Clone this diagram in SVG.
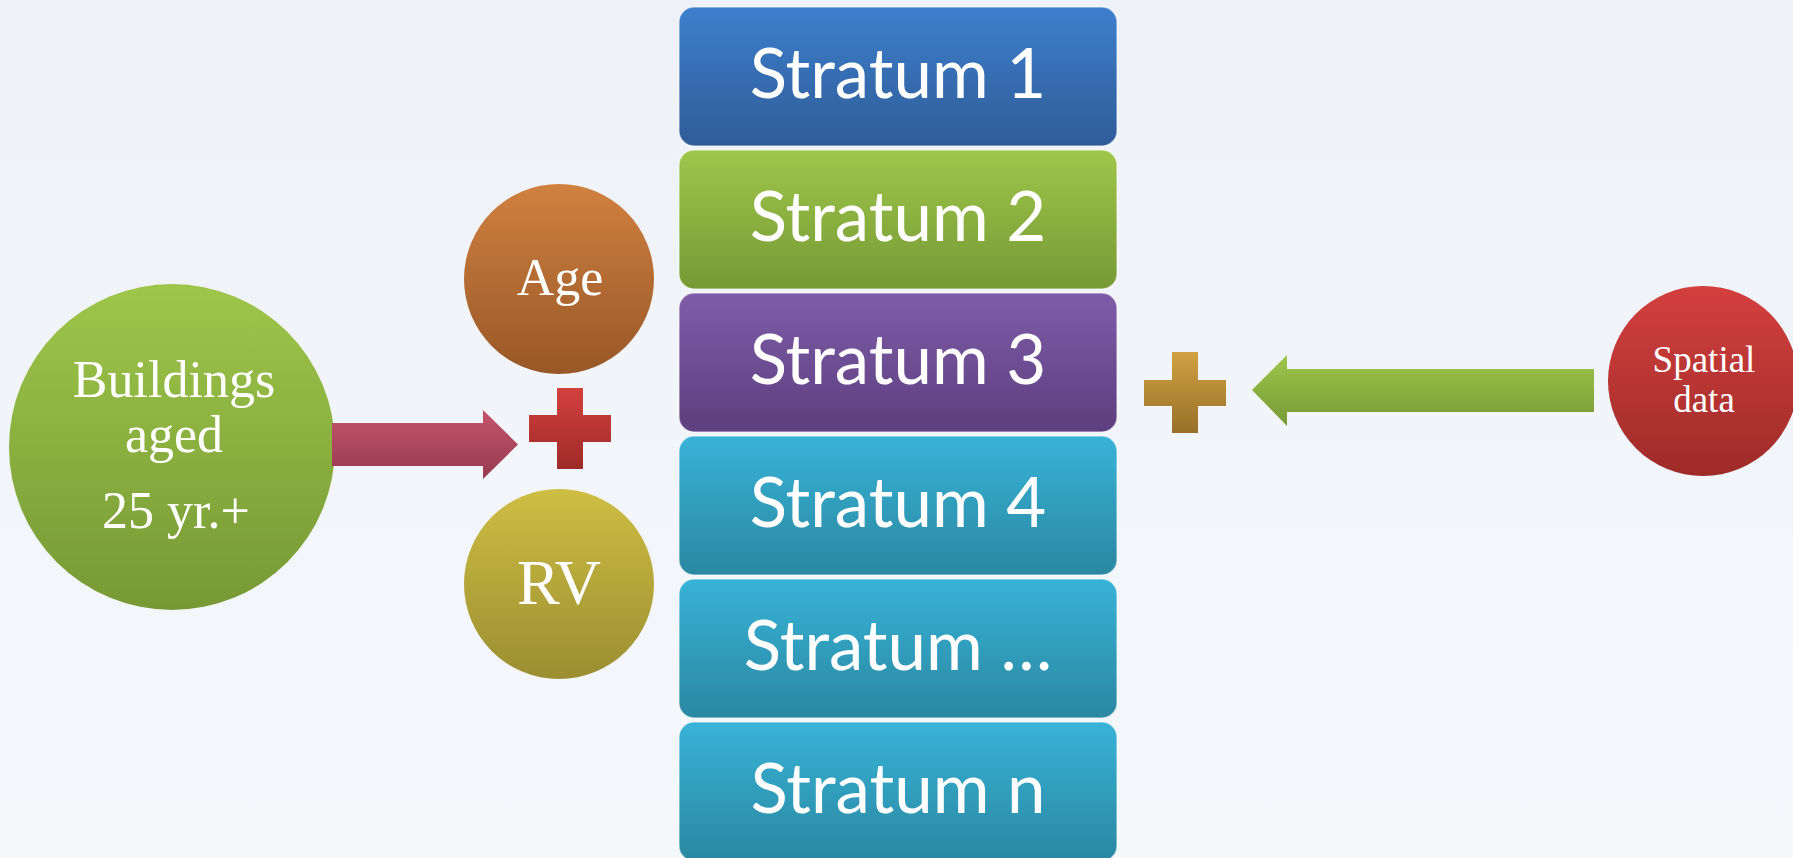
<svg xmlns="http://www.w3.org/2000/svg" width="1793" height="858" viewBox="0 0 1793 858">
  <defs>
    <linearGradient id="bg" x1="0" y1="0" x2="0" y2="1">
      <stop offset="0" stop-color="#eef2f8"/>
      <stop offset="1" stop-color="#f5f8fb"/>
    </linearGradient>
    <linearGradient id="gBlue" x1="0" y1="0" x2="0" y2="1">
      <stop offset="0" stop-color="#3d7fcd"/>
      <stop offset="1" stop-color="#2f5c97"/>
    </linearGradient>
    <linearGradient id="gGreen" x1="0" y1="0" x2="0" y2="1">
      <stop offset="0" stop-color="#9ec64a"/>
      <stop offset="1" stop-color="#769935"/>
    </linearGradient>
    <linearGradient id="gPurple" x1="0" y1="0" x2="0" y2="1">
      <stop offset="0" stop-color="#7f5ca9"/>
      <stop offset="1" stop-color="#5c3f7e"/>
    </linearGradient>
    <linearGradient id="gAqua" x1="0" y1="0" x2="0" y2="1">
      <stop offset="0" stop-color="#38b3d7"/>
      <stop offset="1" stop-color="#2a87a1"/>
    </linearGradient>
    <linearGradient id="gOrange" x1="0" y1="0" x2="0" y2="1">
      <stop offset="0" stop-color="#d08140"/>
      <stop offset="1" stop-color="#985727"/>
    </linearGradient>
    <linearGradient id="gOlive" x1="0" y1="0" x2="0" y2="1">
      <stop offset="0" stop-color="#cebe43"/>
      <stop offset="1" stop-color="#9b8e32"/>
    </linearGradient>
    <linearGradient id="gRed" x1="0" y1="0" x2="0" y2="1">
      <stop offset="0" stop-color="#d3403e"/>
      <stop offset="1" stop-color="#9e2b29"/>
    </linearGradient>
    <linearGradient id="gGold" x1="0" y1="0" x2="0" y2="1">
      <stop offset="0" stop-color="#d0a243"/>
      <stop offset="1" stop-color="#987028"/>
    </linearGradient>
    <linearGradient id="gRose" x1="0" y1="0" x2="0" y2="1">
      <stop offset="0" stop-color="#c3556b"/>
      <stop offset="1" stop-color="#973a50"/>
    </linearGradient>
  </defs>
  <style>
    .box { stroke: #ffffff; stroke-opacity: 0.5; stroke-width: 1.5; }
    .stratum { font-family: Lato, "Open Sans", sans-serif; font-size: 69px; fill: #ffffff; text-anchor: middle; }
    .serif { font-family: "Liberation Serif", "Times New Roman", serif; fill: #ffffff; text-anchor: middle; }
  </style>

  <rect width="1793" height="858" fill="url(#bg)"/>

  <!-- stacked strata -->
  <g id="stratum-1">
    <rect class="box" x="679" y="7" width="438" height="139" rx="15" fill="url(#gBlue)"/>
    <text class="stratum" x="898" y="98">Stratum 1</text>
  </g>
  <g id="stratum-2">
    <rect class="box" x="679" y="150" width="438" height="139" rx="15" fill="url(#gGreen)"/>
    <text class="stratum" x="898" y="241">Stratum 2</text>
  </g>
  <g id="stratum-3">
    <rect class="box" x="679" y="293" width="438" height="139" rx="15" fill="url(#gPurple)"/>
    <text class="stratum" x="898" y="384">Stratum 3</text>
  </g>
  <g id="stratum-4">
    <rect class="box" x="679" y="436" width="438" height="139" rx="15" fill="url(#gAqua)"/>
    <text class="stratum" x="898" y="527">Stratum 4</text>
  </g>
  <g id="stratum-etc">
    <rect class="box" x="679" y="579" width="438" height="139" rx="15" fill="url(#gAqua)"/>
    <text class="stratum" x="898" y="670">Stratum …</text>
  </g>
  <g id="stratum-n">
    <rect class="box" x="679" y="722" width="438" height="139" rx="15" fill="url(#gAqua)"/>
    <text class="stratum" x="898" y="813">Stratum n</text>
  </g>

  <!-- source circles -->
  <g id="buildings">
    <circle cx="172" cy="447" r="163" fill="url(#gGreen)"/>
    <text class="serif" font-size="52" x="174" y="397">Buildings</text>
    <text class="serif" font-size="52" x="174" y="452">aged</text>
    <text class="serif" font-size="52" x="176" y="528">25 yr.+</text>
  </g>
  <g id="age">
    <circle cx="559" cy="279" r="95" fill="url(#gOrange)"/>
    <text class="serif" font-size="52" x="560" y="295">Age</text>
  </g>
  <g id="rv">
    <circle cx="559" cy="584" r="95" fill="url(#gOlive)"/>
    <text class="serif" font-size="64" x="559" y="604">RV</text>
  </g>
  <g id="spatial-data">
    <circle cx="1703" cy="381" r="95" fill="url(#gRed)"/>
    <text class="serif" font-size="37" x="1704" y="372">Spatial</text>
    <text class="serif" font-size="37" x="1704" y="412">data</text>
  </g>

  <!-- plus signs -->
  <g id="plus-left">
    <path d="M557 388 H583 V415 H611 V442 H583 V469 H557 V442 H529 V415 H557 Z" fill="url(#gRed)"/>
  </g>
  <g id="plus-right">
    <path d="M1172 352 H1198 V380 H1226 V406 H1198 V433 H1172 V406 H1144 V380 H1172 Z" fill="url(#gGold)"/>
  </g>

  <!-- block arrows -->
  <g id="connectors">
    <path d="M332 423 H483 V410 L518 444.5 L483 479 V466 H332 Z" fill="url(#gRose)"/>
    <path d="M1594 369 H1287 V355 L1252 390 L1287 426 V412 H1594 Z" fill="url(#gGreen)"/>
  </g>
</svg>
